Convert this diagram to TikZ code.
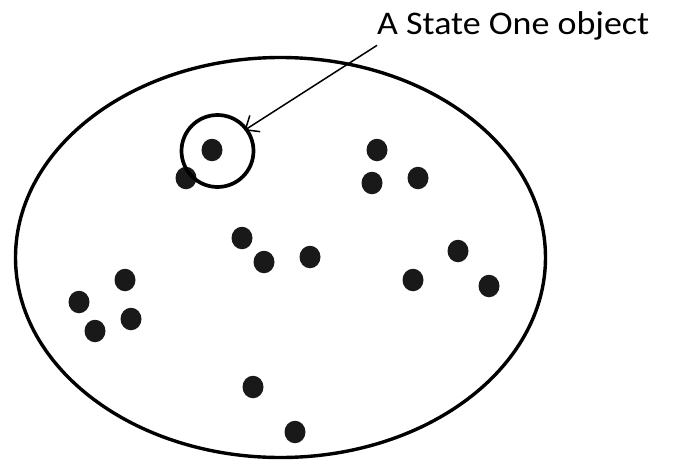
\documentclass[tikz,border=0pt]{standalone}
\usepackage{fontspec}
\setmainfont{Carlito}
\usetikzlibrary{positioning,arrows.meta,shapes.geometric}

\begin{document}
\begin{tikzpicture}[
 x=1pt, y=-1pt,
 space/.style={ellipse, draw, line width=3.4pt, minimum width=530pt, minimum height=400pt, inner sep=0pt},
 obj/.style={ellipse, fill=black!90, inner sep=0pt, minimum width=21pt, minimum height=22.5pt},
 ring/.style={circle, draw, line width=3.7pt, inner sep=0pt, minimum size=72pt},
 pointer/.style={-{Straight Barb[angle=80:15pt]}, line width=1.5pt}
 ]
 \useasboundingbox (0,0) rectangle (673,461);
 % Nodes
 \node[space] (space) at (280.5,257.5) {};
 \foreach \px/\py [count=\i] in {212/150, 186/178, 377/150, 372/183, 418/178,
   242/238, 264/262, 310/257, 458/251, 413/280, 489/286,
   125/280, 79/302, 131/319, 95/331, 253/387, 295/432}
   \node[obj] (o\i) at (\px,\py) {};
 \node[ring] (ring) at (217.5,151) {};
 \node[anchor=base west, inner sep=0pt, font=\fontsize{33}{40}\selectfont] (label) at (377,34.5)
   {\scalebox{1.09}[1]{A State One object}};
 % Arrow
 \draw[pointer, shorten >=-4pt] ([yshift=-5pt]label.south west) -- (ring.37);
\end{tikzpicture}
\end{document}
